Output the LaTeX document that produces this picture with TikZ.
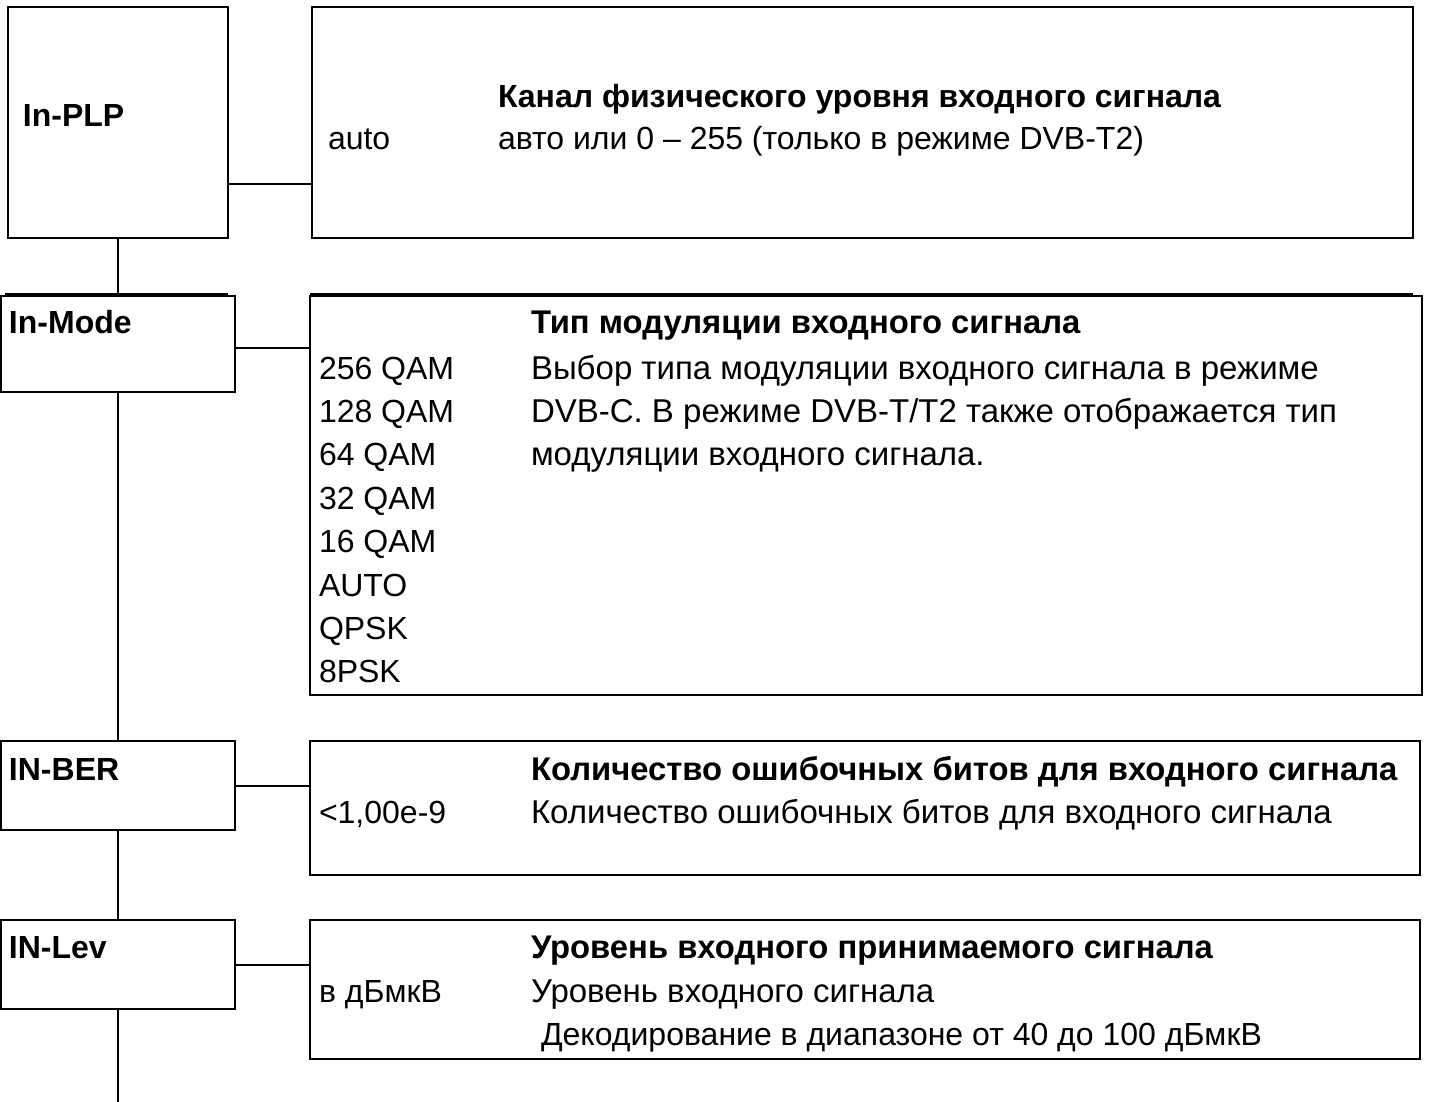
\documentclass[tikz,border=0pt]{standalone}
\usepackage{fontspec}
\setmainfont{Liberation Sans}
\usetikzlibrary{positioning,calc}

\tikzset{
  box/.style={draw, line width=2pt, inner sep=0pt, outer sep=0pt},
  txt/.style={anchor=base west, inner sep=0pt, font=\fontsize{32}{38}\selectfont},
  ttl/.style={anchor=base west, inner sep=0pt, font=\fontsize{32}{38}\selectfont\bfseries},
  wtxt/.style={anchor=base west, inner sep=0pt, font=\fontsize{33}{39}\selectfont},
  wttl/.style={anchor=base west, inner sep=0pt, font=\fontsize{32.8}{39}\selectfont\bfseries},
}

\begin{document}
\begin{tikzpicture}[x=1pt, y=-1pt, line width=2pt]
\useasboundingbox (0,0) rectangle (1429,1102);

% left column
\node[box, minimum width=220, minimum height=231] (plp) at (118,122.5) {};
\node[box, minimum width=234, minimum height=96] (mode) at (118,344) {};
\node[box, minimum width=234, minimum height=89] (ber) at (118,785.5) {};
\node[box, minimum width=234, minimum height=89] (lev) at (118,964.5) {};
\coordinate (tail) at (118,1102);

% right column
\node[box, minimum width=1101, minimum height=231] (plpd) at (862.5,122.5) {};
\node[box, minimum width=1112, minimum height=399] (moded) at (866,495.5) {};
\node[box, minimum width=1110, minimum height=134] (berd) at (865,808) {};
\node[box, minimum width=1110, minimum height=139] (levd) at (865,989.5) {};

% doubled top edges
\draw (5,294) -- (228,294);
\draw (310,294) -- (1413,294);

% connectors
\draw (plp.south) -- (plp.south |- mode.north);
\draw (mode.south) -- (mode.south |- ber.north);
\draw (ber.south) -- (ber.south |- lev.north);
\draw (lev.south) -- (tail);
\draw (plp.east |- 0,184) -- (plpd.west |- 0,184);
\draw (mode.east |- 0,348) -- (moded.west |- 0,348);
\draw (ber.east) -- (ber.east -| berd.west);
\draw (lev.east) -- (lev.east -| levd.west);

% In-PLP
\node[ttl] (plpname) at (22,127) {In-PLP};
\node[ttl] (plptitle) at (497,108) {Канал физического уровня входного сигнала};
\node[txt] (plpval) at (327,150) {auto};
\node[txt] (plpdesc) at (497,150) {авто или 0 – 255 (только в режиме DVB-T2)};

% In-Mode
\node[ttl] (modename) at (8,333) {In-Mode};
\node[wttl] (modetitle) at (530,333) {Тип модуляции входного сигнала};
\node[txt] (m1) at (318,379) {256 QAM};
\node[txt] (m2) at (318,422.4) {128 QAM};
\node[txt] (m3) at (318,465.8) {64 QAM};
\node[txt] (m4) at (318,509.2) {32 QAM};
\node[txt] (m5) at (318,552.6) {16 QAM};
\node[txt] (m6) at (318,596) {AUTO};
\node[txt] (m7) at (318,639.4) {QPSK};
\node[txt] (m8) at (318,682.8) {8PSK};
\node[wtxt] (mdesc1) at (530,379) {Выбор типа модуляции входного сигнала в режиме};
\node[wtxt] (mdesc2) at (530,422.4) {DVB-C. В режиме DVB-T/T2 также отображается тип};
\node[wtxt] (mdesc3) at (530,465.8) {модуляции входного сигнала.};

% IN-BER
\node[ttl] (bername) at (8,780) {IN-BER};
\node[wttl] (bertitle) at (530,780) {Количество ошибочных битов для входного сигнала};
\node[txt] (berval) at (318,823) {<1,00e-9};
\node[wtxt] (berdesc) at (530,823) {Количество ошибочных битов для входного сигнала};

% IN-Lev
\node[ttl] (levname) at (8,958) {IN-Lev};
\node[wttl] (levtitle) at (530,958) {Уровень входного принимаемого сигнала};
\node[txt] (levval) at (318,1002) {в дБмкВ};
\node[wtxt] (levdesc1) at (530,1002) {Уровень входного сигнала};
\node[txt] (levdesc2) at (540,1045) {Декодирование в диапазоне от 40 до 100 дБмкВ};
\end{tikzpicture}
\end{document}
